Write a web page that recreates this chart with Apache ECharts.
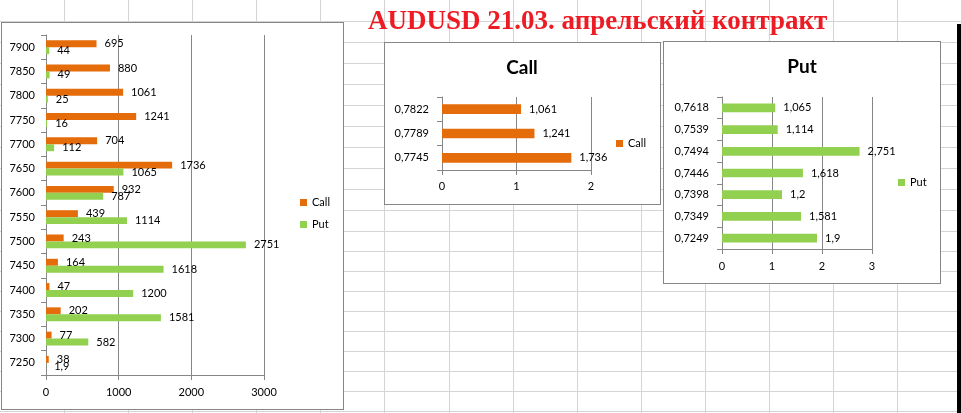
<!DOCTYPE html>
<html><head><meta charset="utf-8">
<script src="https://cdn.jsdelivr.net/npm/echarts@6/dist/echarts.min.js"></script>
<style>
html,body{margin:0;padding:0;background:#fff;}
#wrap{position:relative;width:961px;height:413px;overflow:hidden;background:#fff;}
.gl{position:absolute;background:#d4d4d4;}
.box{position:absolute;background:#fff;border:1px solid #868686;box-sizing:border-box;}
#chart{position:absolute;left:0;top:0;width:961px;height:413px;}
</style></head>
<body><div id="wrap"><div id="chart"></div></div>
<script>
// ---- data ----
const strikes = ['7250','7300','7350','7400','7450','7500','7550','7600','7650','7700','7750','7800','7850','7900'];
const callOI = [38, 77, 202, 47, 164, 243, 439, 932, 1736, 704, 1241, 1061, 880, 695];
const putOI  = [1.9, 582, 1581, 1200, 1618, 2751, 1114, 787, 1065, 112, 16, 25, 49, 44];
const callStrikes = ['0,7745','0,7789','0,7822'];
const callVals = [1.736, 1.241, 1.061];
const putStrikes = ['0,7249','0,7349','0,7398','0,7446','0,7494','0,7539','0,7618'];
const putVals = [1.9, 1.581, 1.2, 1.618, 2.751, 1.114, 1.065];
const mainTitle = 'AUDUSD 21.03. апрельский контракт';

// ---- spreadsheet decoration (layout only) ----
const wrap = document.getElementById('wrap');
const colX = [64,128,192,256,320,384,449,513,577,641,705,769,833,897];
const rowY = [21,42,63,84,105,126,147,168,189,210,231,251,271,291,311,331,351,371,391,411];
function addDiv(cls, l, t, w, h, bg){
  const d = document.createElement('div'); d.className = cls;
  d.style.left = l+'px'; d.style.top = t+'px'; d.style.width = w+'px'; d.style.height = h+'px';
  if (bg) d.style.background = bg;
  wrap.insertBefore(d, document.getElementById('chart'));
  return d;
}
colX.forEach(x => addDiv('gl', x, 0, 1, 413));
rowY.forEach(y => addDiv('gl', 0, y, 961, 1));
addDiv('gl', 957, 24, 4, 389, '#000');
addDiv('box', 1, 22, 343, 388);
addDiv('box', 384, 42, 277, 163);
addDiv('box', 663, 41, 278, 243);

// ---- chart ----
const ORANGE = '#E46C0A', GREEN = '#92D050', AX = '#868686';
const FONT = 'Lato, Carlito, Calibri, sans-serif';
const fmt = v => String(v).replace('.', ',');

function valAxis(gi, max, margin){
  return {gridIndex: gi, type: 'value', min: 0, max: max, interval: max === 3000 ? 1000 : 1,
    axisLine: {show: true, lineStyle: {color: AX, width: 1}},
    axisTick: {show: true, length: 5, lineStyle: {color: AX}},
    splitLine: {show: true, lineStyle: {color: AX, width: 1}},
    axisLabel: {color: '#000', fontSize: 11, fontFamily: FONT, margin: margin, formatter: v => fmt(v)}};
}
function catAxis(gi, data, margin){
  return {gridIndex: gi, type: 'category', data: data,
    axisLine: {show: true, lineStyle: {color: AX, width: 1}},
    axisTick: {show: true, length: 5, lineStyle: {color: AX}},
    splitLine: {show: false},
    axisLabel: {color: '#000', fontSize: 11, fontFamily: FONT, margin: margin}};
}
function lbl(){
  return {show: true, position: 'right', distance: 8, color: '#000', fontSize: 11, fontFamily: FONT,
    formatter: p => fmt(p.value)};
}
const legendBase = {orient: 'vertical', icon: 'rect', itemWidth: 7, itemHeight: 7, padding: 0,
  selectedMode: false, textStyle: {color: '#000', fontSize: 11, fontFamily: FONT}};

const chart = echarts.init(document.getElementById('chart'), null, {renderer: 'canvas'});
chart.setOption({
  animation: false,
  textStyle: {fontFamily: FONT},
  graphic: [
    {type: 'text', x: 368, y: 22, style: {text: mainTitle, fill: '#ED1C24', textAlign: 'left', textVerticalAlign: 'middle',
      font: 'bold 27px "Liberation Serif", "Times New Roman", serif'}},
    {type: 'text', x: 522, y: 68, style: {text: 'Call', fill: '#000', textAlign: 'center', textVerticalAlign: 'middle',
      font: 'bold 19px Lato, Carlito, Calibri, sans-serif'}},
    {type: 'text', x: 802, y: 67, style: {text: 'Put', fill: '#000', textAlign: 'center', textVerticalAlign: 'middle',
      font: 'bold 19px Lato, Carlito, Calibri, sans-serif'}}
  ],
  legend: [
    Object.assign({}, legendBase, {data: ['Call','Put'], left: 300, top: 197, itemGap: 11}),
    Object.assign({}, legendBase, {data: ['Call'], left: 616, top: 138}),
    Object.assign({}, legendBase, {data: ['Put'], left: 898, top: 177})
  ],
  grid: [
    {left: 46, top: 35, width: 218, height: 340},
    {left: 442, top: 97, width: 149, height: 73},
    {left: 722, top: 97, width: 150, height: 152}
  ],
  xAxis: [valAxis(0, 3000, 12), valAxis(1, 2, 11), valAxis(2, 3, 12)],
  yAxis: [catAxis(0, strikes, 11), catAxis(1, callStrikes, 13), catAxis(2, putStrikes, 13)],
  series: [
    {name: 'Call', type: 'bar', xAxisIndex: 0, yAxisIndex: 0, data: callOI, itemStyle: {color: ORANGE},
      barGap: '0%', barCategoryGap: '42.86%', label: lbl()},
    {name: 'Put', type: 'bar', xAxisIndex: 0, yAxisIndex: 0, data: putOI, itemStyle: {color: GREEN},
      barGap: '0%', barCategoryGap: '42.86%', label: lbl()},
    {name: 'Call', type: 'bar', xAxisIndex: 1, yAxisIndex: 1, data: callVals, itemStyle: {color: ORANGE},
      barCategoryGap: '60%', label: lbl()},
    {name: 'Put', type: 'bar', xAxisIndex: 2, yAxisIndex: 2, data: putVals, itemStyle: {color: GREEN},
      barCategoryGap: '60%', label: lbl()}
  ]
});
</script>
</body></html>
